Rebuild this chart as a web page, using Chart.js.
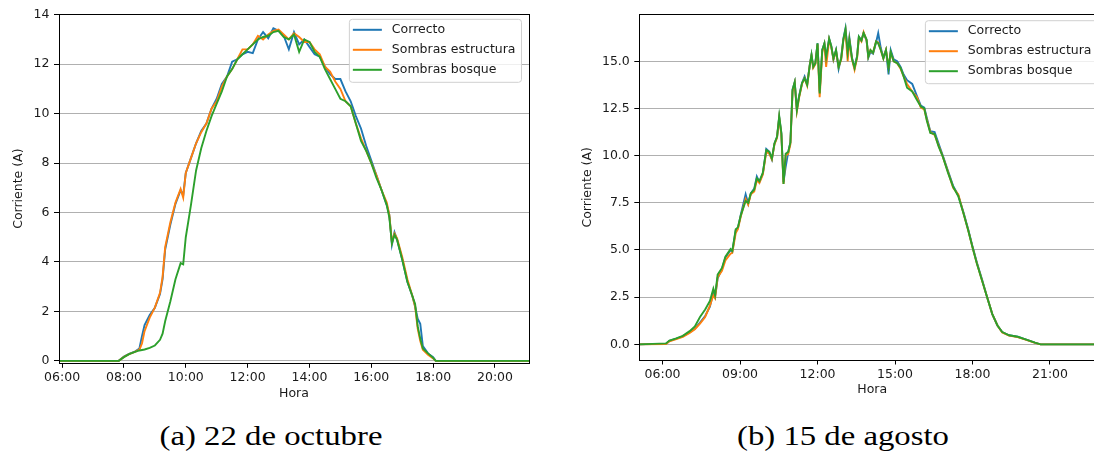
<!DOCTYPE html>
<html>
<head>
<meta charset="utf-8">
<script src="https://cdn.jsdelivr.net/npm/chart.js@4.4.1/dist/chart.umd.min.js"></script>
<style>
  html, body { margin: 0; padding: 0; background: #fff; }
  body { width: 1094px; height: 452px; overflow: hidden; position: relative; }
  #boxA { position: absolute; left: 0; top: 0; width: 540px; height: 410px; }
  #boxB { position: absolute; left: 560px; top: 0; width: 550px; height: 410px; }
  .cap { position: absolute; top: 420px; font-family: 'Liberation Serif', serif; font-size: 28px;
         color: #000; white-space: nowrap; transform: translateX(-50%) scaleX(1.17); }
</style>
</head>
<body>
<div id="boxA"><canvas id="chartA" width="540" height="410"></canvas></div>
<div id="boxB"><canvas id="chartB" width="550" height="410"></canvas></div>
<div class="cap" style="left:271px">(a) 22 de octubre</div>
<div class="cap" style="left:843px">(b) 15 de agosto</div>
<script>
var seriesNames = ['Correcto', 'Sombras estructura', 'Sombras bosque'];
var seriesColors = ['#1f77b4', '#ff7f0e', '#2ca02c'];

// (a) 22 de octubre
var timesA = ['05:54', '07:50', '08:00', '08:10', '08:20', '08:30', '08:35', '08:40', '08:50', '09:00',
  '09:10', '09:15', '09:20', '09:30', '09:40', '09:50', '09:55', '10:00', '10:10', '10:20',
  '10:30', '10:40', '10:50', '11:00', '11:10', '11:20', '11:30', '11:40', '11:50', '12:00',
  '12:10', '12:20', '12:30', '12:40', '12:50', '13:00', '13:10', '13:20', '13:30', '13:40',
  '13:50', '14:00', '14:10', '14:20', '14:30', '14:40', '14:50', '15:00', '15:10', '15:20',
  '15:30', '15:40', '15:50', '16:00', '16:10', '16:20', '16:30', '16:35', '16:40', '16:45',
  '16:50', '17:00', '17:10', '17:20', '17:25', '17:30', '17:35', '17:40', '17:50', '18:00',
  '18:05', '21:06'];
var correctoA = [0, 0, 0.17, 0.28, 0.36, 0.5, 1.0, 1.45, 1.85, 2.15,
  2.7, 3.3, 4.5, 5.5, 6.35, 6.9, 6.7, 7.6, 8.2, 8.8,
  9.3, 9.6, 10.2, 10.6, 11.2, 11.5, 12.1, 12.2, 12.4, 12.5,
  12.45, 13.0, 13.3, 13.05, 13.45, 13.35, 13.15, 12.6, 13.3, 12.8,
  13.0, 12.7, 12.4, 12.3, 11.9, 11.6, 11.4, 11.4, 10.9, 10.5,
  9.9, 9.4, 8.7, 8.1, 7.5, 6.9, 6.3, 5.9, 4.7, 5.2,
  4.9, 4.1, 3.2, 2.6, 2.2, 1.7, 1.5, 0.6, 0.3, 0.15,
  0, 0];
var estructuraA = [0, 0, 0.16, 0.27, 0.35, 0.45, 0.7, 1.2, 1.75, 2.15,
  2.75, 3.4, 4.6, 5.6, 6.4, 6.95, 6.6, 7.6, 8.2, 8.8,
  9.25, 9.6, 10.2, 10.5, 11.1, 11.5, 11.8, 12.2, 12.6, 12.6,
  12.8, 13.15, 13.0, 13.2, 13.35, 13.4, 13.2, 13.0, 13.25, 13.1,
  12.9, 12.9, 12.6, 12.4, 11.9, 11.7, 11.3, 11.0, 10.5, 10.3,
  9.6, 9.0, 8.5, 8.0, 7.5, 6.9, 6.4, 5.9, 4.8, 5.15,
  4.95, 4.2, 3.3, 2.6, 2.2, 1.3, 0.8, 0.45, 0.25, 0.1,
  0, 0];
var bosqueA = [0, 0, 0.15, 0.27, 0.35, 0.42, 0.44, 0.46, 0.52, 0.62,
  0.85, 1.1, 1.6, 2.4, 3.3, 3.95, 3.9, 5.0, 6.3, 7.7,
  8.6, 9.3, 9.9, 10.4, 10.9, 11.5, 11.8, 12.2, 12.4, 12.6,
  12.8, 13.0, 13.1, 13.15, 13.3, 13.35, 13.1, 13.0, 13.2, 12.5,
  13.0, 12.9, 12.5, 12.3, 11.8, 11.4, 11.0, 10.6, 10.5, 10.3,
  9.6, 8.9, 8.5, 8.0, 7.4, 6.9, 6.3, 5.8, 4.75, 5.1,
  4.9, 4.1, 3.2, 2.6, 2.3, 1.4, 0.9, 0.5, 0.3, 0.12,
  0, 0];
var xTicksA = [6, 8, 10, 12, 14, 16, 18, 20];
var yTicksA = [0, 2, 4, 6, 8, 10, 12, 14];

// (b) 15 de agosto
var timesB = ['05:06', '06:08', '06:16', '06:32', '06:47', '07:03', '07:15', '07:27', '07:39', '07:50',
  '07:58', '08:02', '08:08', '08:18', '08:26', '08:38', '08:42', '08:50', '08:55', '09:02',
  '09:13', '09:19', '09:25', '09:33', '09:39', '09:45', '09:53', '10:01', '10:08', '10:14',
  '10:20', '10:26', '10:31', '10:36', '10:41', '10:46', '10:52', '10:57', '11:02', '11:07',
  '11:12', '11:17', '11:24', '11:30', '11:36', '11:42', '11:46', '11:50', '11:55', '12:00',
  '12:05', '12:11', '12:16', '12:20', '12:27', '12:32', '12:37', '12:43', '12:49', '12:55',
  '13:00', '13:05', '13:10', '13:14', '13:20', '13:26', '13:32', '13:36', '13:42', '13:47',
  '13:54', '13:58', '14:03', '14:09', '14:16', '14:21', '14:27', '14:33', '14:39', '14:45',
  '14:50', '14:57', '15:05', '15:13', '15:20', '15:28', '15:40', '15:51', '16:00', '16:08',
  '16:14', '16:22', '16:32', '16:41', '16:51', '17:03', '17:15', '17:27', '17:39', '17:50',
  '18:00', '18:10', '18:22', '18:34', '18:46', '18:58', '19:09', '19:25', '19:45', '20:05',
  '20:25', '20:38', '24:00'];
var correctoB = [0, 0.03, 0.18, 0.3, 0.42, 0.65, 0.83, 1.15, 1.5, 2.0,
  2.75, 2.5, 3.5, 4.0, 4.6, 5.0, 4.9, 6.05, 6.15, 6.9,
  7.95, 7.45, 8.0, 8.25, 8.9, 8.6, 9.05, 10.35, 10.2, 9.8,
  10.65, 11.0, 12.05, 11.2, 8.6, 9.4, 10.2, 10.7, 13.5, 13.9,
  12.5, 13.15, 13.85, 14.2, 13.8, 14.8, 15.35, 14.7, 14.9, 15.95,
  13.4, 15.6, 15.95, 15.15, 16.2, 15.8, 15.1, 15.6, 14.6, 15.2,
  16.2, 16.75, 15.5, 16.25, 15.2, 14.65, 15.3, 16.3, 16.1, 16.5,
  16.1, 15.2, 15.5, 15.4, 16.0, 16.5, 15.7, 15.2, 15.6, 14.3,
  15.6, 15.1, 15.0, 14.7, 14.3, 14.0, 13.8, 13.15, 12.65, 12.55,
  12.0, 11.3, 11.25, 10.65, 10.0, 9.2, 8.4, 7.9, 7.0, 6.1,
  5.2, 4.35, 3.45, 2.5, 1.6, 1.0, 0.65, 0.48, 0.4, 0.25,
  0.09, 0, 0];
var estructuraB = [0, 0.02, 0.16, 0.28, 0.4, 0.6, 0.8, 1.1, 1.45, 2.05,
  2.6, 2.45, 3.55, 3.9, 4.45, 4.8, 4.85, 5.9, 6.1, 6.8,
  7.7, 7.4, 7.95, 8.1, 8.7, 8.55, 9.0, 10.2, 10.1, 9.8,
  10.6, 10.95, 12.0, 11.1, 8.5, 10.0, 10.1, 10.6, 13.4, 13.85,
  12.35, 13.05, 13.8, 14.1, 13.7, 14.8, 15.3, 14.65, 14.85, 15.9,
  13.1, 15.5, 15.9, 14.7, 16.15, 15.75, 15.1, 15.55, 14.7, 15.1,
  16.1, 16.6, 15.0, 16.1, 15.1, 14.55, 15.2, 16.25, 16.05, 16.55,
  16.1, 15.25, 15.6, 15.45, 16.05, 16.0, 15.6, 15.15, 15.6, 14.7,
  15.45, 15.0, 14.9, 14.6, 14.2, 13.8, 13.4, 13.1, 12.55, 12.45,
  11.9, 11.25, 11.1, 10.55, 9.95, 9.15, 8.3, 7.95, 6.95, 6.05,
  5.15, 4.3, 3.4, 2.5, 1.6, 1.0, 0.63, 0.46, 0.38, 0.24,
  0.08, 0, 0];
var bosqueB = [0, 0.05, 0.2, 0.32, 0.45, 0.7, 0.95, 1.45, 1.85, 2.3,
  2.95, 2.6, 3.7, 4.05, 4.65, 5.05, 4.95, 6.1, 6.2, 6.85,
  7.6, 7.5, 8.0, 8.2, 8.8, 8.65, 9.1, 10.3, 10.2, 9.85,
  10.65, 11.0, 12.1, 11.2, 8.5, 10.1, 10.2, 10.7, 13.5, 13.9,
  12.4, 13.1, 13.85, 14.1, 13.75, 14.8, 15.35, 14.7, 14.9, 15.95,
  13.3, 15.6, 15.95, 15.2, 16.2, 15.8, 15.15, 15.6, 14.7, 15.15,
  16.15, 16.7, 15.45, 16.15, 15.15, 14.65, 15.25, 16.3, 16.1, 16.5,
  16.15, 15.25, 15.6, 15.45, 16.05, 15.95, 15.6, 15.15, 15.6, 14.65,
  15.5, 15.0, 14.9, 14.65, 14.2, 13.6, 13.4, 12.95, 12.6, 12.5,
  11.85, 11.2, 11.15, 10.5, 9.95, 9.1, 8.35, 7.85, 6.95, 6.05,
  5.15, 4.3, 3.4, 2.5, 1.6, 1.0, 0.65, 0.48, 0.4, 0.25,
  0.09, 0, 0];
var xTicksB = [6, 9, 12, 15, 18, 21];
var yTicksB = [0, 2.5, 5, 7.5, 10, 12.5, 15];

var axisFont = { family: 'DejaVu Sans', size: 12.5, lineHeight: 1.2 };
var textColor = '#1a1a1a';

function toHours(t) {
  var p = t.split(':');
  return +p[0] + p[1] / 60;
}

function hourLabel(v) {
  var h = Math.round(v);
  return (h < 10 ? '0' : '') + h + ':00';
}

// same rounding Chart.js uses for 1px borders
function px(v) { return Math.round(v - 0.5) + 0.5; }

// black frame round the plot area (top/right spines too)
var framePlugin = {
  id: 'frame',
  afterDatasetsDraw: function(chart) {
    var a = chart.chartArea, ctx = chart.ctx;
    var l = px(a.left), t = px(a.top), r = px(a.right), b = px(a.bottom);
    ctx.save();
    ctx.strokeStyle = '#000';
    ctx.lineWidth = 1;
    ctx.strokeRect(l, t, r - l, b - t);
    ctx.restore();
  }
};

// matplotlib-like legend, upper right inside the plot
var legendPlugin = {
  id: 'boxLegend',
  afterDraw: function(chart, args, opts) {
    var ctx = chart.ctx, a = chart.chartArea;
    var sets = chart.data.datasets;
    ctx.save();
    ctx.font = axisFont.size + 'px "' + axisFont.family + '"';
    var tw = 0;
    sets.forEach(function(d) { tw = Math.max(tw, ctx.measureText(d.label).width); });
    var w = 3.5 + 29 + 10 + tw + 6;
    var h = 63;
    var x0 = a.right - 7.5 - w, y0 = a.top + opts.top;
    ctx.beginPath();
    if (ctx.roundRect) ctx.roundRect(x0, y0, w, h, 3); else ctx.rect(x0, y0, w, h);
    ctx.fillStyle = 'rgba(255,255,255,0.8)';
    ctx.fill();
    ctx.strokeStyle = '#d0d0d0';
    ctx.lineWidth = 1;
    ctx.stroke();
    ctx.textBaseline = 'middle';
    ctx.textAlign = 'left';
    sets.forEach(function(d, i) {
      var y = y0 + 10.5 + i * 20;
      ctx.strokeStyle = d.borderColor;
      ctx.lineWidth = 2;
      ctx.beginPath();
      ctx.moveTo(x0 + 3.5, y);
      ctx.lineTo(x0 + 32.5, y);
      ctx.stroke();
      ctx.fillStyle = textColor;
      ctx.fillText(d.label, x0 + 42.5, y);
    });
    ctx.restore();
  }
};

function drawChart(id, times, values, g) {
  var xs = times.map(toHours);
  var datasets = values.map(function(vals, k) {
    return {
      label: seriesNames[k],
      data: xs.map(function(x, i) { return { x: x, y: vals[i] }; }),
      borderColor: seriesColors[k],
      backgroundColor: seriesColors[k],
      borderWidth: 1.9,
      pointRadius: 0,
      tension: 0,
      fill: false,
      order: 2 - k
    };
  });
  return new Chart(document.getElementById(id), {
    type: 'line',
    data: { datasets: datasets },
    plugins: [framePlugin, legendPlugin],
    options: {
      responsive: false,
      animation: false,
      devicePixelRatio: 1,
      layout: { padding: { top: g.top, right: g.right, left: 0, bottom: 0 } },
      plugins: {
        legend: { display: false },
        tooltip: { enabled: false },
        boxLegend: { top: g.legTop }
      },
      scales: {
        x: {
          type: 'linear',
          min: g.xMin,
          max: g.xMax,
          afterBuildTicks: function(s) { s.ticks = g.xTicks.map(function(v) { return { value: v }; }); },
          afterFit: function(s) { s.height = g.xh; },
          ticks: { callback: hourLabel, font: axisFont, color: textColor, padding: g.xPad, maxRotation: 0, autoSkip: false },
          grid: { drawOnChartArea: false, drawTicks: true, tickLength: 4.5, tickColor: '#000', tickWidth: 1 },
          border: { display: true, color: '#000', width: 1 },
          title: { display: true, text: 'Hora', font: axisFont, color: textColor, padding: { top: 0, bottom: g.xTitlePad } }
        },
        y: {
          type: 'linear',
          min: g.yMin,
          max: g.yMax,
          afterBuildTicks: function(s) { s.ticks = g.yTicks.map(function(v) { return { value: v }; }); },
          afterFit: function(s) { s.width = g.yw; },
          ticks: { callback: g.yFmt, font: axisFont, color: textColor, padding: 4.5, autoSkip: false },
          grid: { color: '#b0b0b0', lineWidth: 1, drawTicks: true, tickLength: 5, tickColor: '#000', tickWidth: 1 },
          border: { display: true, color: '#000', width: 1 },
          title: { display: true, text: 'Corriente (A)', font: axisFont, color: textColor, padding: { top: g.yTitlePad, bottom: 0 } }
        }
      }
    }
  });
}

drawChart('chartA', timesA, [correctoA, estructuraA, bosqueA], {
  top: 14, right: 11, xh: 46.7, yw: 59, legTop: 5.3,
  xMin: 5.9, xMax: 21.1, yMin: -0.1, yMax: 14.03,
  xTicks: xTicksA, yTicks: yTicksA, xPad: 2, xTitlePad: 8.5, yTitlePad: 11.5,
  yFmt: function(v) { return String(v); }
});

drawChart('chartB', timesB, [correctoB, estructuraB, bosqueB], {
  top: 14.7, right: 5, xh: 50, yw: 79.3, legTop: 6,
  xMin: 5.1, xMax: 23.13, yMin: -0.83, yMax: 17.47,
  xTicks: xTicksB, yTicks: yTicksB, xPad: 2.5, xTitlePad: 12.5, yTitlePad: 20.5,
  yFmt: function(v) { return v.toFixed(1); }
});
</script>
</body>
</html>
